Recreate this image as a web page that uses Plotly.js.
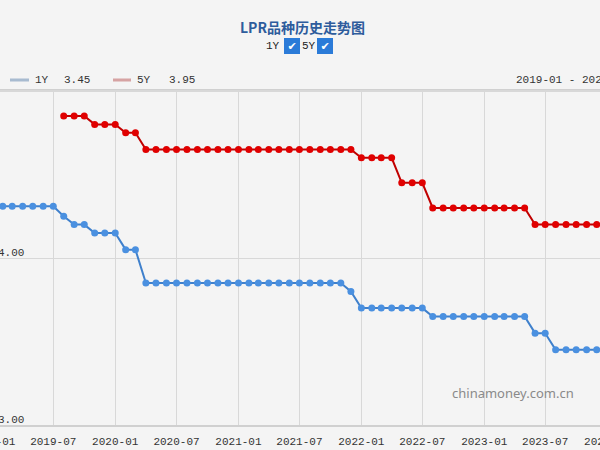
<!DOCTYPE html>
<html><head><meta charset="utf-8">
<script src="https://cdn.plot.ly/plotly-3.0.1.min.js"></script>
<style>
html,body{margin:0;padding:0;width:600px;height:450px;overflow:hidden;background:#f4f4f4;}
#chart{position:absolute;left:-60px;top:0;width:720px;height:450px;}
</style></head><body>
<div id="chart"></div>
<script>
const months = [
"2019-01","2019-02","2019-03","2019-04","2019-05","2019-06","2019-07","2019-08","2019-09","2019-10","2019-11","2019-12",
"2020-01","2020-02","2020-03","2020-04","2020-05","2020-06","2020-07","2020-08","2020-09","2020-10","2020-11","2020-12",
"2021-01","2021-02","2021-03","2021-04","2021-05","2021-06","2021-07","2021-08","2021-09","2021-10","2021-11","2021-12",
"2022-01","2022-02","2022-03","2022-04","2022-05","2022-06","2022-07","2022-08","2022-09","2022-10","2022-11","2022-12",
"2023-01","2023-02","2023-03","2023-04","2023-05","2023-06","2023-07","2023-08","2023-09","2023-10","2023-11","2023-12",
"2024-01","2024-02"];
const lpr1Y = [
4.31,4.31,4.31,4.31,4.31,4.31,4.31,4.25,4.20,4.20,4.15,4.15,
4.15,4.05,4.05,3.85,3.85,3.85,3.85,3.85,3.85,3.85,3.85,3.85,
3.85,3.85,3.85,3.85,3.85,3.85,3.85,3.85,3.85,3.85,3.85,3.80,
3.70,3.70,3.70,3.70,3.70,3.70,3.70,3.65,3.65,3.65,3.65,3.65,
3.65,3.65,3.65,3.65,3.65,3.55,3.55,3.45,3.45,3.45,3.45,3.45,
3.45,3.45];
const lpr5Y = [
null,null,null,null,null,null,null,4.85,4.85,4.85,4.80,4.80,
4.80,4.75,4.75,4.65,4.65,4.65,4.65,4.65,4.65,4.65,4.65,4.65,
4.65,4.65,4.65,4.65,4.65,4.65,4.65,4.65,4.65,4.65,4.65,4.65,
4.60,4.60,4.60,4.60,4.45,4.45,4.45,4.30,4.30,4.30,4.30,4.30,
4.30,4.30,4.30,4.30,4.30,4.20,4.20,4.20,4.20,4.20,4.20,4.20,
4.20,3.95];
const yTickVals = [3,4,5];
const yTickText = ["3.00","4.00",""];
const titleText = "LPR品种历史走势图";
const latest1Y = "3.45", latest5Y = "3.95";
const rangeText = "2019-01 - 2024-02";

const mono = "Liberation Mono, DejaVu Sans Mono, monospace";
const traces = [
 {x: months, y: lpr1Y, name: "1Y", type: "scatter", mode: "lines+markers",
  line: {color: "#3f80cc", width: 2}, marker: {color: "#4a90e0", size: 7}},
 {x: months, y: lpr5Y, name: "5Y", type: "scatter", mode: "lines+markers",
  line: {color: "#c00000", width: 2}, marker: {color: "#e00000", size: 7}, connectgaps: false}
];
const off = 60, L = 52, PW = 635, T = 91, PH = 334;
function px(wx){ return (wx + off - L) / PW; }
function py(wy){ return (T + PH - wy) / PH; }
const legY = py(80);
const layout = {
  width: 720, height: 450,
  paper_bgcolor: "#f4f4f4", plot_bgcolor: "#f4f4f4",
  margin: {l: L, r: 720 - L - PW, t: T, b: 450 - T - PH},
  showlegend: false,
  font: {family: mono, size: 11, color: "#333"},
  xaxis: {type: "date", range: ["2018-12-31", "2024-02-29"], dtick: "M6", tick0: "2019-01-01",
    tickformat: "%Y-%m", showgrid: true, gridcolor: "#d8d8d8", gridwidth: 1,
    showline: true, linecolor: "#d0d0d0", linewidth: 2, mirror: true, zeroline: false,
    ticks: "", ticklabelstandoff: 5, ticklabeloverflow: "allow", tickfont: {family: mono, size: 11, color: "#333"}},
  yaxis: {range: [3, 5], tickvals: yTickVals, ticktext: yTickText, showgrid: true, gridcolor: "#d8d8d8",
    zeroline: false, showline: false, ticks: "", ticklabelposition: "inside", ticklabelshift: -6,
    ticklabelstandoff: 3, ticklabeloverflow: "allow", tickfont: {family: mono, size: 11, color: "#333"}},
  shapes: [
    {type: "line", xref: "paper", yref: "paper", x0: -1, x1: 2, y0: 1, y1: 1, line: {color: "#d8d8d8", width: 2}},
    {type: "line", xref: "paper", yref: "paper", x0: px(10), x1: px(29), y0: legY, y1: legY, line: {color: "#a8bbd0", width: 3}},
    {type: "line", xref: "paper", yref: "paper", x0: px(113), x1: px(131), y0: legY, y1: legY, line: {color: "#d6a3a3", width: 3}}
  ],
  annotations: [
    {text: "<b>" + titleText + "</b>", xref: "paper", yref: "paper", x: px(302), y: py(27), xanchor: "center", yanchor: "middle", showarrow: false,
     font: {family: "Noto Sans CJK SC, serif", size: 14, color: "#2e5c9c"}},
    {text: "1Y", xref: "paper", yref: "paper", x: px(273), y: py(46), xanchor: "center", yanchor: "middle", showarrow: false, font: {family: mono, size: 11, color: "#222"}},
    {text: "✔", xref: "paper", yref: "paper", x: px(292), y: py(46), xanchor: "center", yanchor: "middle", showarrow: false, bgcolor: "#2b7bd8", bordercolor: "#2b7bd8", borderpad: 0, width: 14, height: 14, font: {family: "DejaVu Sans", size: 11, color: "#fff"}},
    {text: "5Y", xref: "paper", yref: "paper", x: px(309), y: py(46), xanchor: "center", yanchor: "middle", showarrow: false, font: {family: mono, size: 11, color: "#222"}},
    {text: "✔", xref: "paper", yref: "paper", x: px(325), y: py(46), xanchor: "center", yanchor: "middle", showarrow: false, bgcolor: "#2b7bd8", bordercolor: "#2b7bd8", borderpad: 0, width: 14, height: 14, font: {family: "DejaVu Sans", size: 11, color: "#fff"}},
    {text: "1Y", xref: "paper", yref: "paper", x: px(33), y: legY, xanchor: "left", yanchor: "middle", showarrow: false, font: {family: mono, size: 11, color: "#333"}},
    {text: latest1Y, xref: "paper", yref: "paper", x: px(62), y: legY, xanchor: "left", yanchor: "middle", showarrow: false, font: {family: mono, size: 11, color: "#333"}},
    {text: "5Y", xref: "paper", yref: "paper", x: px(135), y: legY, xanchor: "left", yanchor: "middle", showarrow: false, font: {family: mono, size: 11, color: "#333"}},
    {text: latest5Y, xref: "paper", yref: "paper", x: px(167), y: legY, xanchor: "left", yanchor: "middle", showarrow: false, font: {family: mono, size: 11, color: "#333"}},
    {text: rangeText, xref: "paper", yref: "paper", x: px(514), y: legY, xanchor: "left", yanchor: "middle", showarrow: false, font: {family: mono, size: 11, color: "#333"}},
    {text: "chinamoney.com.cn", xref: "paper", yref: "paper", x: px(513), y: py(393), xanchor: "center", yanchor: "middle", showarrow: false, font: {family: "Noto Sans, sans-serif", size: 13, color: "#8a8a8a"}}
  ]
};
Plotly.newPlot("chart", traces, layout, {displayModeBar: false, staticPlot: true});
</script>
</body></html>
